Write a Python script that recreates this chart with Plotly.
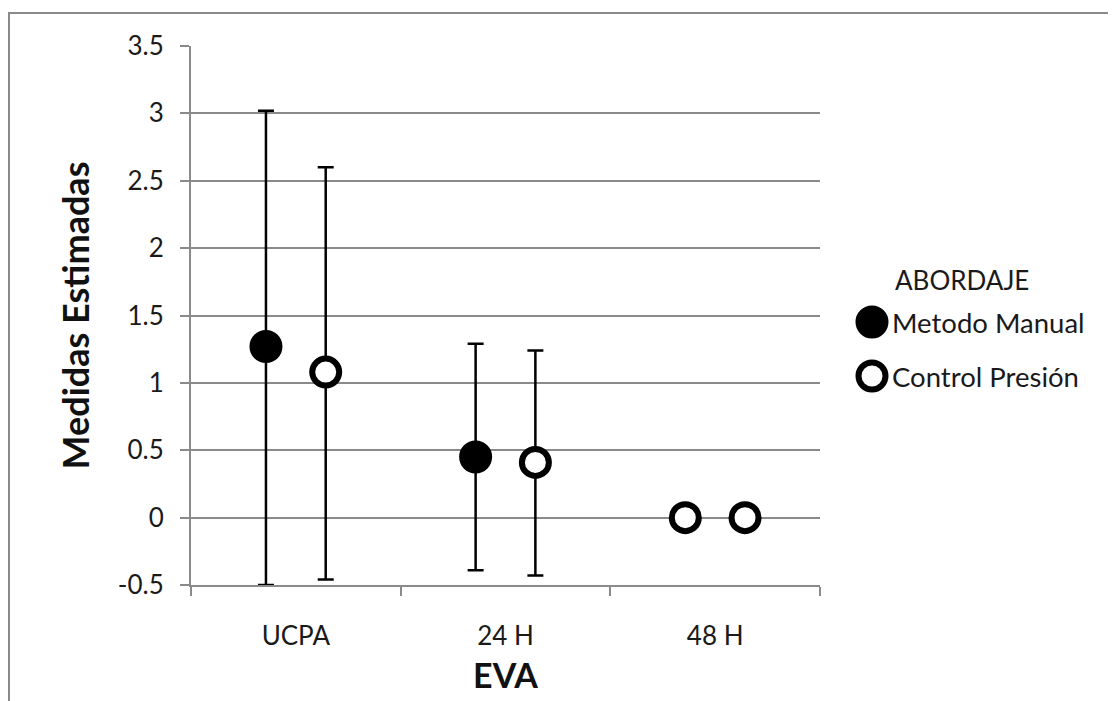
import plotly.graph_objects as go

# ---------------- data ----------------
categories = ["UCPA", "24 H", "48 H"]
series_names = ["Metodo Manual", "Control Presión"]
legend_title = "ABORDAJE"

manual_mean = [1.27, 0.45, 0.00]
manual_upper = [3.02, 1.29, 0.00]
manual_lower = [-0.50, -0.39, 0.00]
manual_fill = ["black", "black", "white"]

control_mean = [1.08, 0.41, 0.00]
control_upper = [2.60, 1.24, 0.00]
control_lower = [-0.46, -0.43, 0.00]
control_fill = ["white", "white", "white"]

y_tickvals = [-0.5, 0, 0.5, 1, 1.5, 2, 2.5, 3, 3.5]
y_ticktext = ["-0.5", "0", "0.5", "1", "1.5", "2", "2.5", "3", "3.5"]

x_title = "EVA"
y_title = "Medidas Estimadas"

# ---------------- figure ----------------
FONT = "Lato, Calibri, Carlito, sans-serif"
GRID = "#8a8a8a"
TXT = "#1a1a1a"

def trace(name, mean, upper, lower, fill):
    return go.Scatter(
        x=categories,
        y=mean,
        name=name,
        mode="markers",
        marker=dict(size=27, color=fill, line=dict(color="black", width=6)),
        error_y=dict(
            type="data",
            symmetric=False,
            array=[u - m for u, m in zip(upper, mean)],
            arrayminus=[m - l for m, l in zip(mean, lower)],
            color="black",
            thickness=2.5,
            width=8,
        ),
        showlegend=False,
        cliponaxis=False,
    )

fig = go.Figure()
fig.add_trace(trace(series_names[0], manual_mean, manual_upper, manual_lower, manual_fill))
fig.add_trace(trace(series_names[1], control_mean, control_upper, control_lower, control_fill))

OFF = 8  # page body margin
L, T, W, H = 191 - OFF, 46 - OFF, 629, 539
FW, FH = 1116, 701
fig.update_layout(
    width=FW,
    height=FH,
    margin=dict(l=L, r=FW - L - W, t=T, b=FH - T - H),
    paper_bgcolor="white",
    plot_bgcolor="white",
    scattermode="group",
    scattergap=0.43,
    font=dict(family=FONT, color=TXT, size=25),
    xaxis=dict(
        type="category",
        categoryorder="array",
        categoryarray=categories,
        range=[-0.5, 2.5],
        showgrid=False,
        showline=True,
        linecolor=GRID,
        linewidth=2,
        ticks="outside",
        tickson="boundaries",
        ticklen=9,
        tickwidth=2,
        tickcolor=GRID,
        ticklabelstandoff=27,
        tickfont=dict(size=26, family=FONT, color=TXT),
        title=dict(text=f"<b>{x_title}</b>", font=dict(size=34, family=FONT, color="#111"), standoff=14),
        zeroline=False,
    ),
    yaxis=dict(
        range=[-0.5, 3.5],
        tickvals=y_tickvals,
        ticktext=y_ticktext,
        showgrid=True,
        gridcolor=GRID,
        gridwidth=2,
        showline=True,
        linecolor=GRID,
        linewidth=2,
        ticks="outside",
        ticklen=9,
        tickwidth=2,
        tickcolor=GRID,
        ticklabelstandoff=11,
        tickfont=dict(size=26, family=FONT, color=TXT),
        title=dict(text=f"<b>{y_title}</b>", font=dict(size=36, family=FONT, color="#111"), standoff=17),
        zeroline=False,
    ),
)

def px_x(sx):
    return (sx - OFF - L) / W

def px_y(sy):
    return (T + H - (sy - OFF)) / H

shapes = [
    # outer chart border (cropped on right and bottom)
    dict(type="rect", xref="paper", yref="paper",
         x0=px_x(OFF + 1), x1=px_x(1200), y0=px_y(760), y1=px_y(13),
         line=dict(color="#8a8a8a", width=2), fillcolor="rgba(0,0,0,0)", layer="below"),
]
legend_rows = [(series_names[0], "black", 322), (series_names[1], "white", 376)]
annotations = [
    dict(text=legend_title, xref="paper", yref="paper", x=px_x(893), y=px_y(280),
         xanchor="left", yanchor="middle", showarrow=False,
         font=dict(size=26, family=FONT, color=TXT)),
]
for name, fill, yc in legend_rows:
    shapes.append(dict(type="circle", xref="paper", yref="paper",
                       xsizemode="pixel", ysizemode="pixel",
                       xanchor=px_x(872), yanchor=px_y(yc),
                       x0=-13.5, x1=13.5, y0=-13.5, y1=13.5,
                       fillcolor=fill, line=dict(color="black", width=6)))
    annotations.append(dict(text=name, xref="paper", yref="paper", x=px_x(890), y=px_y(yc),
                            xanchor="left", yanchor="middle", showarrow=False,
                            font=dict(size=27.5, family=FONT, color=TXT)))

fig.update_layout(shapes=shapes, annotations=annotations)

fig.write_html("out.html")
